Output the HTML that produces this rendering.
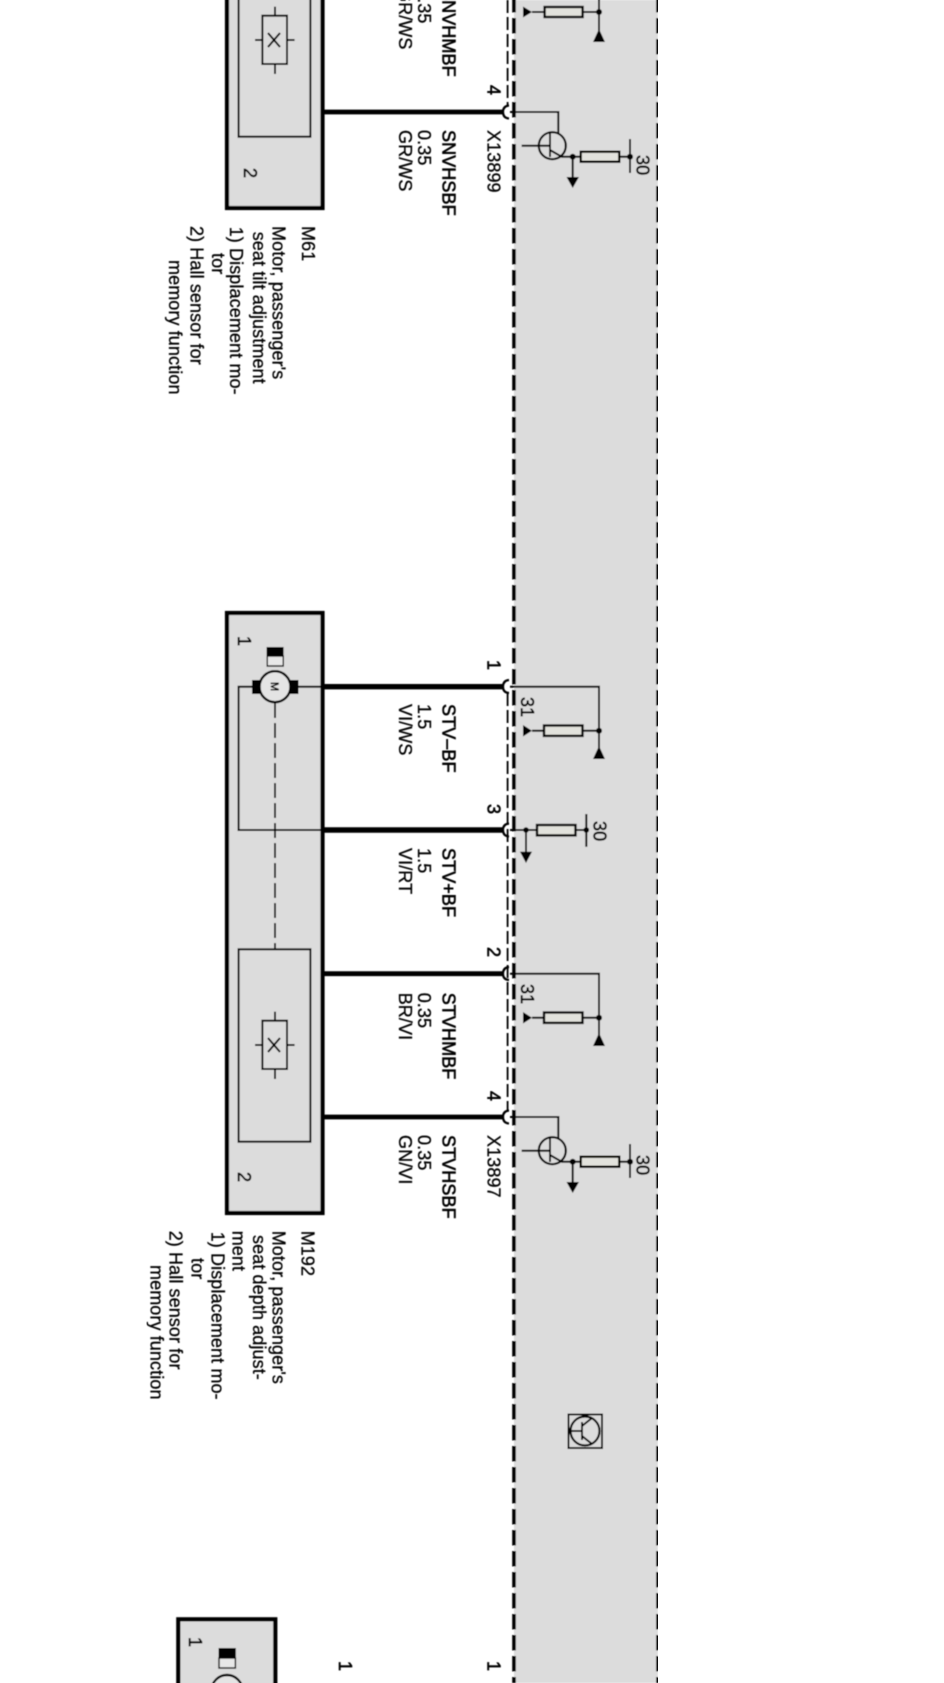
<!DOCTYPE html>
<html><head><meta charset="utf-8"><style>
html,body{margin:0;padding:0;background:#fff}
svg{display:block}
text{font-family:"Liberation Sans",sans-serif;font-size:18px;fill:#000;stroke:#000;stroke-width:.3px;letter-spacing:.1px}
.b{stroke-width:.6px}
.l{fill:none;stroke:#000;stroke-width:2}
.r{fill:#e2e2dc;stroke:#000;stroke-width:2.400}
.w{stroke:#000;stroke-width:5.400;fill:none}
.n{stroke:#000;stroke-width:4.800;fill:none}
.f{fill:#dcdcdc;stroke:#000;stroke-width:4.200}
.i{fill:none;stroke:#000;stroke-width:2}
.d{fill:#000}
.c{fill:none;stroke:#000;stroke-width:2.200}
</style></head><body>
<svg width="944" height="1683" viewBox="0 0 944 1683" xmlns="http://www.w3.org/2000/svg">
<defs><filter id="s" x="0" y="0" width="100%" height="100%"><feGaussianBlur stdDeviation="0.4"/></filter></defs>
<rect width="944" height="1683" fill="#fff"/>
<g filter="url(#s)">
<!-- panel -->
<rect x="514" y="0" width="144" height="1683" fill="#dcdcdc"/>
<line x1="514" y1="-3" x2="514" y2="1683" stroke="#000" stroke-width="3.600" stroke-dasharray="15.500 5.500"/>
<line x1="658" y1="-3" x2="658" y2="1683" stroke="#000" stroke-width="3.600" stroke-dasharray="15.500 5.500"/>
<!-- connector dashed -->
<line x1="507.600" y1="0" x2="507.600" y2="106" stroke="#000" stroke-width="1.800" stroke-dasharray="13 4"/>
<line x1="507.600" y1="693" x2="507.600" y2="1111" stroke="#000" stroke-width="1.800" stroke-dasharray="13 4"/>

<!-- M61 box -->
<rect x="227" y="-10" width="95.500" height="218" class="f"/>
<rect x="238.600" y="-10" width="71.800" height="146.700" class="i"/>
<rect x="262.400" y="15.700" width="24.600" height="48.300" class="i"/>
<path d="M255 40H262.400M287 40H294.600M275 6.700V15.700M275 64V74M268 33L280 47M280 33L268 47" class="l"/>
<text class="b" transform="translate(244,168) rotate(90)">2</text>
<line x1="322" y1="-31.300" x2="504" y2="-31.300" class="n"/>
<line x1="322" y1="112" x2="504" y2="112" class="n"/>
<path d="M509 105.500Q503 106 503 112Q503 118 509 118.500" class="c"/>
<text class="b" transform="translate(487.500,85) rotate(90)">4</text>
<text transform="translate(487.500,130) rotate(90)">X13899</text>
<text class="b" transform="translate(442.500,130) rotate(90)">SNVHSBF</text>
<text transform="translate(418,130) rotate(90)">0.35</text>
<text transform="translate(399,130) rotate(90)">GR/WS</text>
<text class="b" transform="translate(442.500,-12) rotate(90)">SNVHMBF</text>
<text transform="translate(418,-12) rotate(90)">0.35</text>
<text transform="translate(399,-12) rotate(90)">GR/WS</text>
<!-- wire2 top symbols -->
<path d="M599 -31V33M532 12H599" class="l"/>
<rect x="544.600" y="7" width="38" height="10" class="r"/>
<path d="M523 6.500L532 12L523 17.500Z" class="d"/>
<path d="M599 29L605 42H593Z" class="d"/>
<circle cx="599" cy="12" r="3" class="d"/>

<!-- M61 transistor group -->
<g transform="translate(0,-1005)">
<path d="M510 1117H558.300V1138M521.700 1150.700H550M550 1138V1162M550 1155L561.700 1161.700H572.700V1183M572.700 1161.700H581M619 1161.700H630M630 1144V1178" class="l"/>
<circle cx="552.300" cy="1150.700" r="13.500" fill="none" stroke="#000" stroke-width="2.200"/>
<rect x="580.700" y="1156.700" width="38.600" height="10" class="r"/>
<circle cx="572.700" cy="1161.700" r="3" class="d"/>
<circle cx="630" cy="1161.700" r="3" class="d"/>
<path d="M566.500 1182H579L572.700 1193Z" class="d"/>
</g>
<text class="b" transform="translate(636.700,155) rotate(90)">30</text>

<!-- M61 text -->
<text transform="translate(302,226) rotate(90)">M61</text>
<text transform="translate(272.500,226) rotate(90)">Motor, passenger's</text>
<text transform="translate(252.900,231.700) rotate(90)">seat tilt adjustment</text>
<text transform="translate(230,226.700) rotate(90)">1) Displacement mo-</text>
<text transform="translate(212,253) rotate(90)">tor</text>
<text transform="translate(190.500,226) rotate(90)">2) Hall sensor for</text>
<text transform="translate(169,260) rotate(90)">memory function</text>

<!-- M192 box -->
<rect x="227" y="613" width="95.500" height="600" class="f"/>
<path d="M322 686.700H238.600V830H322" class="i"/>
<rect x="238.600" y="949.300" width="71.800" height="192.400" class="i"/>
<rect x="262.400" y="1020.700" width="24.600" height="48.300" class="i"/>
<path d="M255 1045H262.400M287 1045H294.600M275 1011.700V1020.700M275 1069V1079M268 1038L280 1052M280 1038L268 1052" class="l"/>
<line x1="275" y1="703" x2="275" y2="949" stroke="#000" stroke-width="1.800" stroke-dasharray="15 5"/>
<rect x="252" y="680" width="46.500" height="14" class="d"/>
<circle cx="275" cy="686.700" r="15.500" fill="#e4e4e4" stroke="#000" stroke-width="2.400"/>
<text style="font-size:11px" class="b" transform="translate(271,682) rotate(90)">M</text>
<rect x="266.600" y="647" width="17" height="9.500" class="d"/>
<rect x="267.200" y="656" width="16" height="10" fill="#e8e8e8" stroke="#000" stroke-width="1.400"/>
<text class="b" transform="translate(238,636) rotate(90)">1</text>
<text class="b" transform="translate(238,1172) rotate(90)">2</text>

<!-- wires -->
<line x1="322" y1="686.700" x2="504" y2="686.700" class="w"/>
<line x1="322" y1="830" x2="504" y2="830" class="w"/>
<line x1="322" y1="973.700" x2="504" y2="973.700" class="n"/>
<line x1="322" y1="1117" x2="504" y2="1117" class="n"/>
<path d="M509 680Q503 680.500 503 686.700Q503 692.500 509 693" class="c"/>
<path d="M509 823.500Q503 824 503 830Q503 836 509 836.500" class="c"/>
<path d="M509 967Q503 967.500 503 973.700Q503 979.500 509 980" class="c"/>
<path d="M509 1110.500Q503 1111 503 1117Q503 1123 509 1123.500" class="c"/>

<!-- pin numbers -->
<text class="b" transform="translate(487.500,660) rotate(90)">1</text>
<text class="b" transform="translate(487.500,804) rotate(90)">3</text>
<text class="b" transform="translate(487.500,947) rotate(90)">2</text>
<text class="b" transform="translate(487.500,1091) rotate(90)">4</text>

<!-- wire 1 -->
<path d="M510 686.700H599V748M532 730.700H599" class="l"/>
<rect x="544" y="725.500" width="38.500" height="10.400" class="r"/>
<path d="M523 725L532 730.700L523 736.500Z" class="d"/>
<path d="M599 746L605 759H593Z" class="d"/>
<circle cx="599" cy="730.700" r="3" class="d"/>
<text class="b" transform="translate(521,697) rotate(90)">31</text>

<!-- wire 3 -->
<path d="M510 830H586.300M586.300 814V846.700M526 830V852" class="l"/>
<rect x="537" y="825" width="38.500" height="10.400" class="r"/>
<circle cx="526" cy="830" r="2.800" class="d"/>
<circle cx="586.300" cy="830" r="2.800" class="d"/>
<path d="M520 851.700H532L526 863Z" class="d"/>
<text class="b" transform="translate(593.400,821) rotate(90)">30</text>

<!-- wire 2 -->
<path d="M510 973.700H599V1035M532 1017.700H599" class="l"/>
<rect x="544" y="1012.500" width="38.500" height="10.400" class="r"/>
<path d="M523 1012L532 1017.700L523 1023.500Z" class="d"/>
<path d="M599 1033L605 1046H593Z" class="d"/>
<circle cx="599" cy="1017.700" r="3" class="d"/>
<text class="b" transform="translate(521,984) rotate(90)">31</text>

<!-- wire 4 transistor -->
<path d="M510 1117H558.300V1138M521.700 1150.700H550M550 1138V1162M550 1155L561.700 1161.700H572.700V1183M572.700 1161.700H581M619 1161.700H630M630 1144V1178" class="l"/>
<circle cx="552.300" cy="1150.700" r="13.500" fill="none" stroke="#000" stroke-width="2.200"/>
<rect x="580.700" y="1156.700" width="38.600" height="10" class="r"/>
<circle cx="572.700" cy="1161.700" r="3" class="d"/>
<circle cx="630" cy="1161.700" r="3" class="d"/>
<path d="M566.500 1182H579L572.700 1193Z" class="d"/>
<text class="b" transform="translate(636.700,1155) rotate(90)">30</text>

<!-- wire labels -->
<text class="b" transform="translate(442.500,704) rotate(90)">STV–BF</text>
<text transform="translate(418,704) rotate(90)">1.5</text>
<text transform="translate(399,704) rotate(90)">VI/WS</text>
<text class="b" transform="translate(442.500,848) rotate(90)">STV+BF</text>
<text transform="translate(418,848) rotate(90)">1.5</text>
<text transform="translate(399,848) rotate(90)">VI/RT</text>
<text class="b" transform="translate(442.500,992.700) rotate(90)">STVHMBF</text>
<text transform="translate(418,992.700) rotate(90)">0.35</text>
<text transform="translate(399,992.700) rotate(90)">BR/VI</text>
<text class="b" transform="translate(442.500,1135) rotate(90)">STVHSBF</text>
<text transform="translate(418,1135) rotate(90)">0.35</text>
<text transform="translate(399,1135) rotate(90)">GN/VI</text>
<text transform="translate(487.500,1135) rotate(90)">X13897</text>

<!-- M192 text -->
<text transform="translate(301.500,1230.700) rotate(90)">M192</text>
<text transform="translate(272.500,1230.700) rotate(90)">Motor, passenger's</text>
<text transform="translate(253,1235) rotate(90)">seat depth adjust-</text>
<text transform="translate(232.500,1230.700) rotate(90)">ment</text>
<text transform="translate(211.500,1231.700) rotate(90)">1) Displacement mo-</text>
<text transform="translate(191.500,1258) rotate(90)">tor</text>
<text transform="translate(169.500,1230.700) rotate(90)">2) Hall sensor for</text>
<text transform="translate(150.500,1265) rotate(90)">memory function</text>

<!-- icon -->
<rect x="568.500" y="1414.500" width="33.500" height="33.500" fill="none" stroke="#000" stroke-width="2"/>
<circle cx="585" cy="1431" r="14.500" fill="none" stroke="#000" stroke-width="2.200"/>
<path d="M571 1431H582M582 1422V1440M582 1426L592 1418M582 1436L592 1444" class="l"/>

<!-- bottom box -->
<rect x="178.300" y="1619.300" width="97" height="80" class="f"/>
<rect x="218.600" y="1648" width="17.200" height="10" class="d"/>
<rect x="219" y="1658" width="16.400" height="10" fill="#e8e8e8" stroke="#000" stroke-width="1.400"/>
<circle cx="227" cy="1690.500" r="15.500" fill="#e4e4e4" stroke="#000" stroke-width="2.400"/>
<text class="b" transform="translate(189,1637) rotate(90)">1</text>
<text class="b" transform="translate(339,1661) rotate(90)">1</text>
<text class="b" transform="translate(487.500,1661) rotate(90)">1</text>
</g>
</svg>
</body></html>
